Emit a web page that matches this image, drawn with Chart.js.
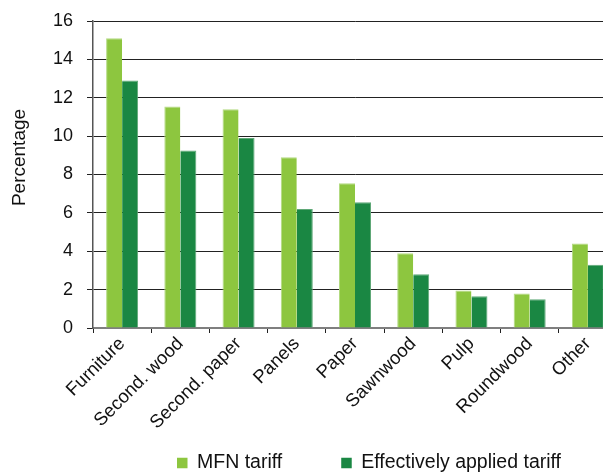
<!DOCTYPE html>
<html>
<head>
<meta charset="utf-8">
<script src="https://cdn.jsdelivr.net/npm/chart.js@4/dist/chart.umd.min.js"></script>
<style>
  html, body { margin: 0; padding: 0; background: #fff; overflow: hidden; }
  #wrap { width: 617px; height: 472px; }
</style>
</head>
<body>
<div id="wrap"><canvas id="c" width="617" height="472"></canvas></div>
<script>
// Product groups along the x axis
const categories = ['Furniture', 'Second. wood', 'Second. paper', 'Panels', 'Paper',
                    'Sawnwood', 'Pulp', 'Roundwood', 'Other'];
// Tariff rates (percent)
const mfnTariff = [15.1, 11.55, 11.4, 8.9, 7.55, 3.9, 1.95, 1.8, 4.4];
const appliedTariff = [12.9, 9.25, 9.9, 6.2, 6.55, 2.8, 1.65, 1.5, 3.3];
// Series names and axis title
const seriesNames = ['MFN tariff', 'Effectively applied tariff'];
const yTitle = 'Percentage';

const FONT = "'Liberation Sans', Arial, Helvetica, sans-serif";
const LIGHT = '#8dc63f';
const DARK = '#1a8743';

// Rotated y-axis title, sitting a little above the middle of the plot
const yAxisTitle = {
  id: 'yAxisTitle',
  afterDraw(chart) {
    const ctx = chart.ctx;
    const area = chart.chartArea;
    ctx.save();
    ctx.translate(20, (area.top + area.bottom) / 2 - 17);
    ctx.rotate(-Math.PI / 2);
    ctx.font = '19px ' + FONT;
    ctx.fillStyle = '#111';
    ctx.textAlign = 'center';
    ctx.textBaseline = 'middle';
    ctx.fillText(yTitle, 0, 0);
    ctx.restore();
  }
};

// Legend drawn as a row of square swatches under the chart
const squareLegend = {
  id: 'squareLegend',
  afterDraw(chart) {
    const ctx = chart.ctx;
    const area = chart.chartArea;
    const box = 10.5, gapText = 9.5, gapItem = 59;
    const cy = 463;
    let x = area.left + 84;
    ctx.save();
    ctx.font = '19.5px ' + FONT;
    ctx.textBaseline = 'middle';
    ctx.textAlign = 'left';
    chart.data.datasets.forEach(ds => {
      ctx.fillStyle = ds.backgroundColor;
      ctx.fillRect(x, cy - box / 2, box, box);
      x += box + gapText;
      ctx.fillStyle = '#111';
      ctx.fillText(ds.label, x, cy);
      x += ctx.measureText(ds.label).width + gapItem;
    });
    ctx.restore();
  }
};

new Chart(document.getElementById('c'), {
  type: 'bar',
  data: {
    labels: categories,
    datasets: [
      { label: seriesNames[0], data: mfnTariff, backgroundColor: LIGHT,
        borderColor: '#b3da82', borderWidth: { left: 1, top: 1, right: 0, bottom: 0 } },
      { label: seriesNames[1], data: appliedTariff, backgroundColor: DARK,
        borderColor: '#5fa877', borderWidth: { left: 0, top: 1, right: 1, bottom: 0 } }
    ]
  },
  options: {
    responsive: false,
    animation: false,
    devicePixelRatio: 1,
    layout: { padding: { top: 21, left: 0, right: 0, bottom: 0 } },
    datasets: { bar: { categoryPercentage: 0.55, barPercentage: 1.0 } },
    plugins: {
      legend: { display: false },
      tooltip: { enabled: false }
    },
    scales: {
      x: {
        offset: true,
        grid: { display: true, drawOnChartArea: false, drawTicks: true, tickLength: 5,
                offset: true, tickColor: '#222', tickWidth: 1 },
        border: { display: true, color: '#7f7f7f', width: 2 },
        ticks: { color: '#111', font: { family: FONT, size: 18.5 }, padding: 0,
                 minRotation: 45, maxRotation: 45, autoSkip: false },
        afterFit(scale) { scale.height = 144; }
      },
      y: {
        min: 0, max: 16,
        grid: { color: '#222', lineWidth: 1, tickLength: 6, tickColor: '#222' },
        border: { display: true, color: '#555', width: 1.5 },
        ticks: { stepSize: 2, color: '#111', font: { family: FONT, size: 18, lineHeight: 0.6 },
                 padding: 14 },
        title: { display: false },
        afterFit(scale) { scale.width = 93; }
      }
    }
  },
  plugins: [yAxisTitle, squareLegend]
});
</script>
</body>
</html>
